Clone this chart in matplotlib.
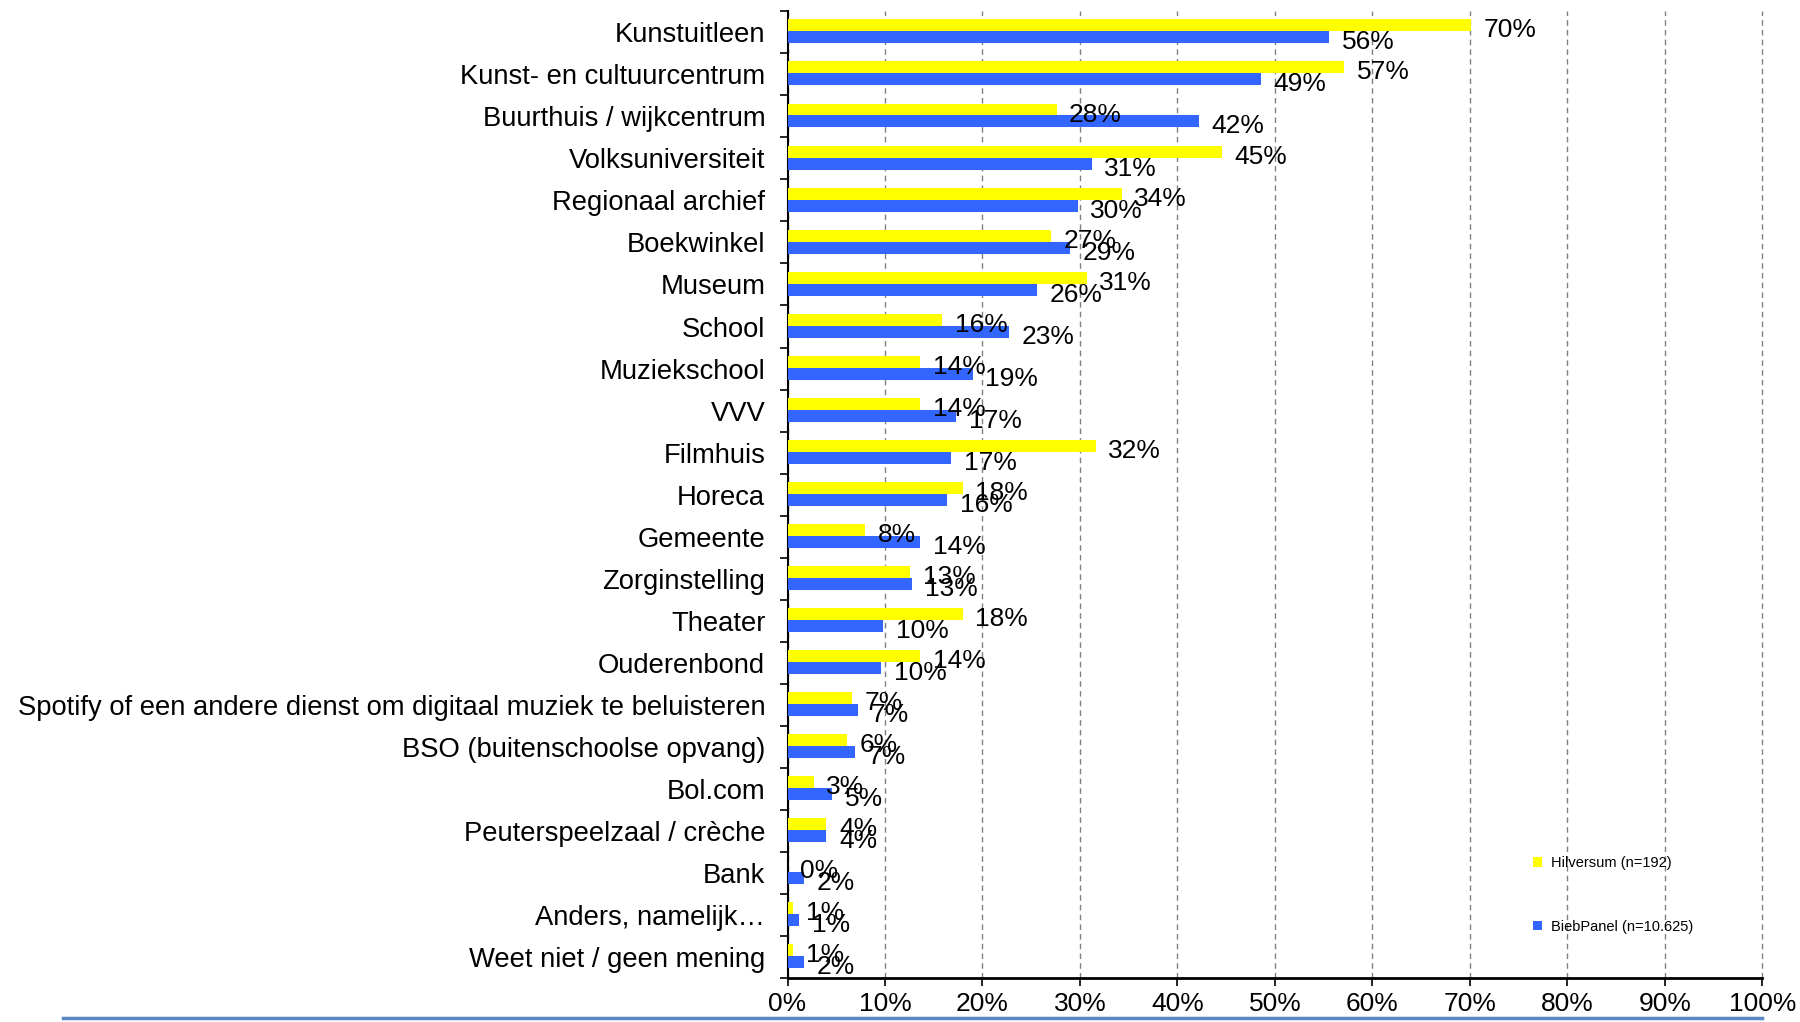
import numpy as np
import matplotlib
matplotlib.use("Agg")
import matplotlib.pyplot as plt
from matplotlib.patches import Patch
from matplotlib.lines import Line2D

plt.rcParams["font.family"] = ["Liberation Sans", "DejaVu Sans"]

# categories top to bottom
categories = [
    "Kunstuitleen", "Kunst- en cultuurcentrum", "Buurthuis / wijkcentrum",
    "Volksuniversiteit", "Regionaal archief", "Boekwinkel", "Museum", "School",
    "Muziekschool", "VVV", "Filmhuis", "Horeca", "Gemeente", "Zorginstelling",
    "Theater", "Ouderenbond",
    "Spotify of een andere dienst om digitaal muziek te beluisteren",
    "BSO (buitenschoolse opvang)", "Bol.com", "Peuterspeelzaal / crèche",
    "Bank", "Anders, namelijk\u2026", "Weet niet / geen mening",
]
hilversum = [70.1, 57.1, 27.6, 44.6, 34.3, 27.0, 30.7, 15.9, 13.6, 13.6, 31.6,
             18.0, 8.0, 12.6, 18.0, 13.6, 6.6, 6.1, 2.7, 4.0, 0.0, 0.6, 0.6]
biebpanel = [55.6, 48.6, 42.2, 31.2, 29.8, 29.0, 25.6, 22.7, 19.0, 17.3, 16.8,
             16.4, 13.6, 12.8, 9.8, 9.6, 7.2, 6.9, 4.6, 4.0, 1.7, 1.2, 1.7]
series_names = ["Hilversum (n=192)", "BiebPanel (n=10.625)"]
colors = ["#FFFF00", "#3366FF"]

fig = plt.figure(figsize=(18, 10.22), dpi=100)
ax = fig.add_axes([0.4375, 0.043, 0.5415, 0.946])

n = len(categories)
y = np.arange(n)
h = 0.285
ax.barh(y - h / 2 - 0.02, hilversum, height=h, color=colors[0], zorder=3)
ax.barh(y + h / 2 - 0.02, biebpanel, height=h, color=colors[1], zorder=3)

for i in range(n):
    ax.annotate(f"{hilversum[i]:.0f}%", (hilversum[i], y[i] - h / 2),
                xytext=(9, -3), textcoords="offset points",
                va="center", ha="left", fontsize=19, zorder=4)
    ax.annotate(f"{biebpanel[i]:.0f}%", (biebpanel[i], y[i] + h / 2),
                xytext=(9, -3), textcoords="offset points",
                va="center", ha="left", fontsize=19, zorder=4)

ax.set_xlim(0, 100)
ax.set_ylim(n - 0.5, -0.5)
ax.set_xticks(np.arange(0, 101, 10))
ax.set_xticklabels([f"{v}%" for v in range(0, 101, 10)], fontsize=19)
ax.set_yticks(y)
ax.set_yticklabels(categories, fontsize=19.7)
ax.tick_params(axis="y", length=0, pad=16)
ax.set_yticks(np.arange(-0.5, n, 1), minor=True)
ax.tick_params(axis="y", which="minor", length=6, width=1.2)
ax.tick_params(axis="x", length=6, width=1.2, pad=4)

ax.xaxis.grid(True, linestyle=(0, (4, 3)), color="#808080", linewidth=1, zorder=0)
for gl in ax.get_xgridlines():
    gl.set_clip_on(False)
ax.spines["top"].set_visible(False)
ax.spines["right"].set_visible(False)
ax.spines["left"].set_linewidth(1.5)
ax.spines["bottom"].set_linewidth(2)

handles = [Patch(facecolor=c, edgecolor="none") for c in colors]
ax.legend(handles, series_names, loc="center left", bbox_to_anchor=(0.765, 0.086),
          frameon=False, fontsize=10.5, handlelength=0.6, handleheight=0.6,
          handletextpad=0.6, labelspacing=3.4, borderpad=0, borderaxespad=0)

fig.add_artist(Line2D([0.035, 0.979], [0.004, 0.004], color="#5b86c5",
                      linewidth=2.5, transform=fig.transFigure))

fig.savefig("out.png", dpi=100)
